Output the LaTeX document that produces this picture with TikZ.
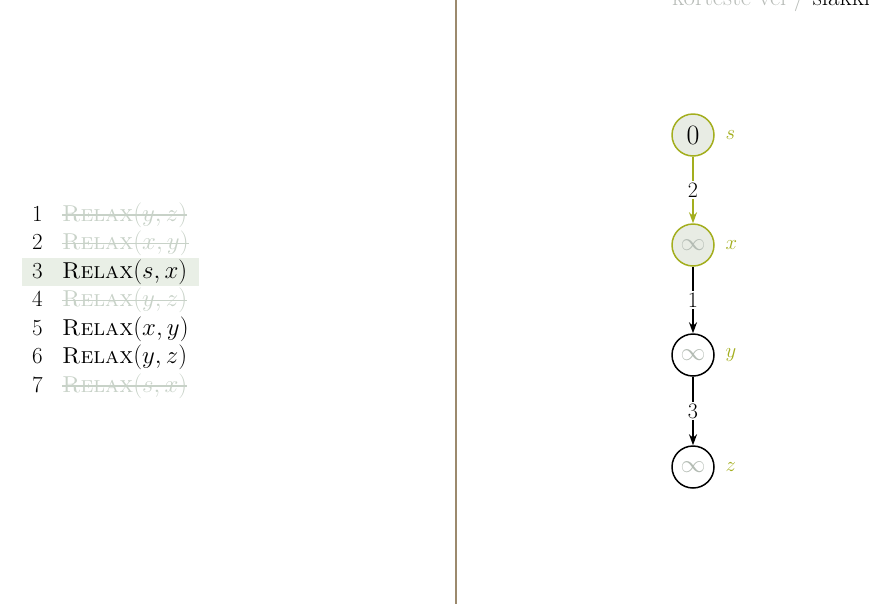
\documentclass[tikz,border=0pt]{standalone}
\usetikzlibrary{arrows.meta}
\definecolor{faded}{HTML}{C8D2C8}
\definecolor{hl}{HTML}{E9EFE6}
\definecolor{olive}{HTML}{A3AE1E}
\definecolor{nodefill}{HTML}{E8ECE4}
\definecolor{rule}{HTML}{9C8A6E}
\definecolor{topgrey}{HTML}{B8BCB8}
\definecolor{infgrey}{HTML}{B4BCB4}
\tikzset{
  numtxt/.style={anchor=base east, inner sep=0pt, font=\fontsize{23}{27}\selectfont},
  reltxt/.style={anchor=base west, inner sep=0pt, font=\fontsize{23}{27}\selectfont},
  fadetxt/.style={reltxt, text=faded},
  strike/.style={draw=faded, line width=1.2pt},
  vtx/.style={circle, draw, line width=1.5pt, minimum size=42pt, inner sep=0pt, font=\fontsize{28}{30}\selectfont},
  active/.style={vtx, draw=olive, fill=nodefill},
  idle/.style={vtx, draw=black, fill=white},
  vlabel/.style={anchor=west, text=olive, font=\fontsize{20}{24}\selectfont},
  edge/.style={line width=1.8pt, -{Stealth[length=11pt,width=8pt]}},
  elabel/.style={fill=white, inner sep=2pt, font=\fontsize{22}{24}\selectfont},
}
\newcommand{\rlx}[2]{\textsc{Relax}$(#1,#2)$}
\newcommand{\infsym}{\textcolor{infgrey}{$\infty$}}
\begin{document}
\begin{tikzpicture}[x=1pt,y=-1pt]
\useasboundingbox (0,0) rectangle (869,603);
% divider
\draw[rule, line width=1.6pt] (456,-5) -- (456,610);
% top header
\node[anchor=base west, inner sep=0pt, font=\fontsize{25}{28}\selectfont] (hdr) at (672,5)
  {\textcolor{topgrey}{korteste vei / }slakking};
% highlight
\fill[hl] (22,258) rectangle (199,286);
% lines
\node[numtxt] (n1) at (43,221) {1};
\node[fadetxt] (r1) at (62,221) {\rlx{y}{z}};
\node[numtxt] (n2) at (43,249.5) {2};
\node[fadetxt] (r2) at (62,249.5) {\rlx{x}{y}};
\node[numtxt] (n3) at (43,278) {3};
\node[reltxt] (r3) at (62,278) {\rlx{s}{x}};
\node[numtxt] (n4) at (43,306.5) {4};
\node[fadetxt] (r4) at (62,306.5) {\rlx{y}{z}};
\node[numtxt] (n5) at (43,335) {5};
\node[reltxt] (r5) at (62,335) {\rlx{x}{y}};
\node[numtxt] (n6) at (43,363.5) {6};
\node[reltxt] (r6) at (62,363.5) {\rlx{y}{z}};
\node[numtxt] (n7) at (43,392) {7};
\node[fadetxt] (r7) at (62,392) {\rlx{s}{x}};
\foreach \r in {r1,r2,r4,r7}
  \draw[strike] ([yshift=6pt]\r.base west) -- ([yshift=6pt]\r.base east);
% graph
\node[active] (s) at (693,135) {0};
\node[active] (x) at (693,245) {\infsym};
\node[idle] (y) at (693,355) {\infsym};
\node[idle] (z) at (693,467) {\infsym};
\node[vlabel] (ls) at (722,135) {$s$};
\node[vlabel] (lx) at (722,245) {$x$};
\node[vlabel] (ly) at (722,355) {$y$};
\node[vlabel] (lz) at (722,467) {$z$};
\draw[edge, olive] (s) -- node[elabel, text=black] (e1) {2} (x);
\draw[edge] (x) -- node[elabel] (e2) {1} (y);
\draw[edge] (y) -- node[elabel] (e3) {3} (z);
\end{tikzpicture}
\end{document}
